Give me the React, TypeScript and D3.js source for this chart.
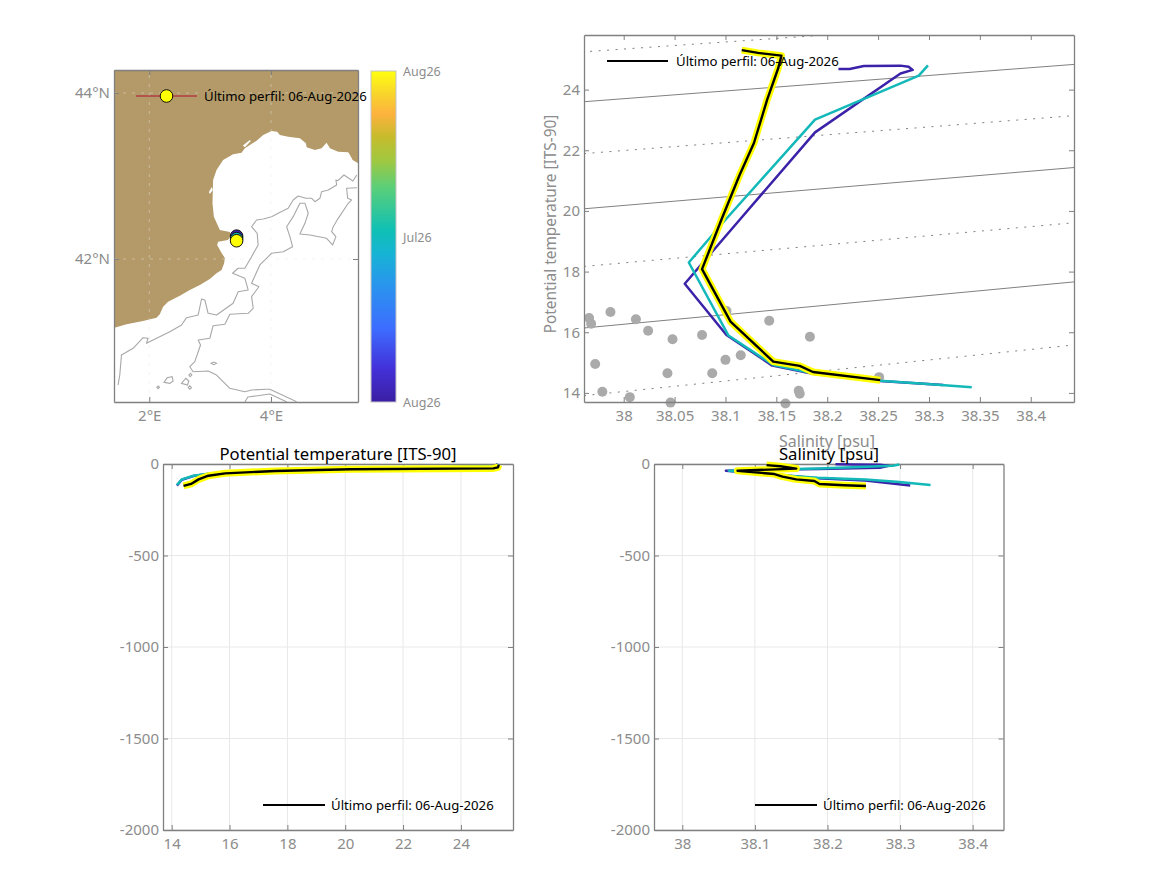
import React, { useEffect, useRef } from 'react';
import * as d3 from 'd3';

type Pt = [number, number];

const lastProfileLabel = 'Último perfil: 06-Aug-2026';

// map: lon / lat
const lonLimits: Pt = [1.42, 5.43];
const latLimits: Pt = [40.277, 44.277];
const lonTicks = [2, 4];
const latTicks = [42, 44];

const coastline: Pt[] = [
  [1.428, 41.172], [1.625, 41.213], [1.898, 41.253], [2.118, 41.293], [2.173, 41.334], [2.227, 41.425],
  [2.309, 41.486], [2.502, 41.558], [2.666, 41.627], [2.831, 41.687], [2.995, 41.759], [3.105, 41.828],
  [3.188, 41.867], [3.23, 41.948], [3.242, 42.012], [3.188, 42.072], [3.115, 42.169], [3.132, 42.208],
  [3.291, 42.229], [3.34, 42.277], [3.324, 42.325], [3.16, 42.349], [3.061, 42.51], [3.039, 42.671],
  [3.049, 42.952], [3.105, 43.072], [3.214, 43.193], [3.378, 43.261], [3.516, 43.281], [3.571, 43.334],
  [3.763, 43.425], [3.872, 43.494], [4.01, 43.542], [4.102, 43.534], [4.146, 43.494], [4.283, 43.473],
  [4.475, 43.454], [4.574, 43.394], [4.586, 43.346], [4.722, 43.313], [4.832, 43.334], [4.914, 43.401],
  [4.969, 43.334], [5.105, 43.293], [5.27, 43.286], [5.298, 43.253], [5.342, 43.193], [5.418, 43.16],
  [5.43, 43.157], [5.43, 44.277], [1.42, 44.277], [1.42, 41.172],
];
const lagoons: Pt[][] = [
  [[2.979, 42.807], [3.028, 42.867], [3.044, 42.831], [2.995, 42.783]],
  [[3.538, 43.367], [3.653, 43.434], [3.669, 43.422], [3.571, 43.346]],
];
const isobathA: Pt[] = [
  [5.408, 43.012], [5.347, 42.94], [5.199, 43.012], [5.1, 42.943], [5.067, 42.952], [5.079, 42.892],
  [4.941, 42.831], [4.832, 42.811], [4.804, 42.731], [4.722, 42.69], [4.668, 42.731], [4.574, 42.731],
  [4.447, 42.759], [4.365, 42.711], [4.283, 42.611], [4.118, 42.551], [4.01, 42.51], [3.872, 42.482],
  [3.763, 42.47], [3.681, 42.389], [3.773, 42.31], [3.789, 42.169], [3.681, 42.028], [3.571, 41.888],
  [3.461, 41.888], [3.368, 41.828], [3.571, 41.767], [3.625, 41.627], [3.461, 41.606], [3.378, 41.466],
  [3.105, 41.325], [2.967, 41.346], [2.913, 41.506], [2.859, 41.518], [2.803, 41.325], [2.612, 41.293],
  [2.53, 41.205], [2.337, 41.124], [1.954, 40.984], [1.98, 41.045], [1.898, 41.052], [1.734, 40.924],
  [1.543, 40.843], [1.515, 40.602], [1.487, 40.482],
];
const isobathB: Pt[] = [
  [5.413, 42.859], [5.243, 42.852], [5.26, 42.731], [5.326, 42.711], [5.27, 42.671], [5.105, 42.49],
  [5.023, 42.389], [4.997, 42.329], [5.067, 42.269], [5.013, 42.169], [4.914, 42.249], [4.64, 42.289],
  [4.475, 42.301], [4.558, 42.43], [4.612, 42.551], [4.558, 42.671], [4.475, 42.671], [4.365, 42.51],
  [4.257, 42.389], [4.311, 42.269], [4.355, 42.148], [4.201, 42.088], [4.01, 42.069], [3.817, 41.928],
  [3.681, 41.707], [3.801, 41.666], [3.681, 41.546], [3.707, 41.406], [3.625, 41.346], [3.324, 41.334],
  [3.242, 41.213], [3.049, 41.196], [2.995, 41.045], [2.803, 41.024], [2.842, 40.964], [2.748, 40.763],
  [2.666, 40.702], [2.72, 40.642], [2.967, 40.651], [3.105, 40.602], [3.324, 40.442], [3.571, 40.401],
  [3.681, 40.422], [3.928, 40.43], [3.982, 40.43], [4.421, 40.281],
];
const isobathC: Pt[] = [[3.571, 40.277], [3.62, 40.337], [3.982, 40.373], [4.261, 40.277]];
const islets: Pt[][] = [
  [[2.243, 40.514], [2.293, 40.57], [2.375, 40.582], [2.391, 40.53], [2.337, 40.502]],
  [[2.53, 40.502], [2.6, 40.563], [2.65, 40.53], [2.628, 40.482]],
  [[2.65, 40.602], [2.678, 40.623], [2.699, 40.602], [2.671, 40.582]],
  [[2.638, 40.454], [2.666, 40.473], [2.694, 40.449], [2.666, 40.43]],
  [[2.123, 40.454], [2.145, 40.47], [2.168, 40.454], [2.145, 40.437]],
  [[3.016, 40.743], [3.061, 40.759], [3.105, 40.743], [3.061, 40.727]],
];
const floatPositions: Pt[] = [[3.435, 42.275], [3.435, 42.245], [3.435, 42.22]];

// colorbar
const colorStops: [number, string][] = [
  [0, '#3a1fa3'], [0.1, '#4330d8'], [0.22, '#3d6cff'], [0.35, '#2a94ee'], [0.45, '#16b4d4'], [0.52, '#0fc0b4'],
  [0.65, '#5ccf78'], [0.73, '#a0c840'], [0.8, '#c6bc2c'], [0.87, '#fdb23e'], [0.93, '#f8d42c'], [1, '#ffff10'],
];
const colorbarTicks: [number, string][] = [[0, 'Aug26'], [0.5, 'Jul26'], [1, 'Aug26']];
const profileColors = ['#3b22a8', '#13b8b8', '#ffff00'];

// T-S diagram
const salLimits: Pt = [37.961, 38.4425];
const tempLimits: Pt = [13.7, 25.8];
const tsSalTicks = [38, 38.05, 38.1, 38.15, 38.2, 38.25, 38.3, 38.35, 38.4];
const tsTempTicks = [14, 16, 18, 20, 22, 24];

const tsPurple: Pt[] = [
  [38.211, 24.68], [38.222, 24.68], [38.236, 24.78], [38.272, 24.79], [38.28, 24.75], [38.284, 24.65],
  [38.272, 24.53], [38.188, 22.59], [38.114, 19.71], [38.06, 17.6], [38.101, 15.91], [38.146, 14.9],
  [38.186, 14.63], [38.252, 14.39], [38.314, 14.26],
];
const tsTeal: Pt[] = [
  [38.299, 24.8], [38.29, 24.46], [38.188, 23.01], [38.1, 19.71], [38.064, 18.3], [38.103, 15.89],
  [38.147, 14.92], [38.186, 14.65], [38.252, 14.4], [38.295, 14.3], [38.342, 14.19],
];
const tsLast: Pt[] = [
  [38.116, 25.3], [38.132, 25.21], [38.155, 25.12], [38.152, 24.72], [38.141, 23.67], [38.128, 22.24],
  [38.114, 21.19], [38.096, 19.71], [38.077, 18.08], [38.105, 16.35], [38.147, 15.03], [38.173, 14.89],
  [38.186, 14.69], [38.252, 14.42],
];
const climatology: Pt[] = [
  [37.966, 16.47], [37.968, 16.28], [37.987, 16.67], [38.012, 16.43], [38.024, 16.05], [38.048, 15.77],
  [38.077, 15.91], [37.972, 14.95], [38.043, 14.65], [38.087, 14.65], [38.1, 15.09], [38.115, 15.24],
  [38.143, 16.38], [38.183, 15.85], [38.101, 16.7], [37.979, 14.04], [38.006, 13.86], [38.046, 13.68],
  [38.159, 13.65], [38.172, 14.07], [38.173, 13.97], [38.251, 14.52],
];
const isopycnalsSolid: Pt[][] = [
  [[37.961, 23.6], [38.4425, 24.83]],
  [[37.961, 20.07], [38.4425, 21.43]],
  [[37.961, 16.14], [38.4425, 17.66]],
];
const isopycnalsDotted: Pt[][] = [
  [[37.967, 25.26], [38.19, 25.78]],
  [[37.961, 21.89], [38.4425, 23.14]],
  [[37.961, 18.17], [38.4425, 19.61]],
  [[37.961, 13.91], [38.4425, 15.58]],
];

// depth profiles
const depthLimits: Pt = [-2000, 0];
const depthTicks = [-2000, -1500, -1000, -500, 0];
const tempTicks = [14, 16, 18, 20, 22, 24];
const salTicks = [38, 38.1, 38.2, 38.3, 38.4];

const tempPurple: Pt[] = [
  [25.2, -3], [25.3, -8], [25.1, -12], [17.6, -39], [15.39, -52], [14.75, -66], [14.35, -86], [14.18, -118],
];
const tempTeal: Pt[] = [
  [25.3, -3], [25.2, -11], [20.17, -29], [17.6, -38], [15.39, -51], [14.75, -64], [14.35, -84], [14.18, -115],
];
const tempLast: Pt[] = [
  [25.31, -5], [25.28, -18], [25.12, -24], [20.17, -29], [17.58, -38], [15.85, -51], [15.27, -64],
  [14.93, -84], [14.67, -109], [14.41, -120],
];
const salPurple: Pt[] = [
  [38.211, -2], [38.236, -3], [38.272, -4], [38.284, -10], [38.272, -20], [38.188, -28], [38.114, -32],
  [38.06, -37], [38.101, -51], [38.146, -64], [38.186, -78], [38.252, -90], [38.314, -118],
];
const salTeal: Pt[] = [
  [38.299, -3], [38.29, -9], [38.188, -25], [38.1, -32], [38.064, -37], [38.103, -51], [38.147, -64],
  [38.186, -75], [38.252, -85], [38.295, -97], [38.342, -115],
];
const salLast: Pt[] = [
  [38.116, -6], [38.135, -12], [38.157, -25], [38.076, -37], [38.127, -55], [38.138, -69], [38.157, -84],
  [38.182, -93], [38.189, -109], [38.223, -116], [38.253, -120],
];

const GREY = '#808080';
const TEXT_GREY = '#8c8c8c';
const FONT = '"Noto Sans", sans-serif';

// box axes with inward ticks on the four sides, as the original plots have
function drawBox(
  svg: d3.Selection<SVGSVGElement, unknown, null, undefined>,
  x: d3.ScaleLinear<number, number>,
  y: d3.ScaleLinear<number, number>,
  xTicks: number[],
  yTicks: number[],
  xFmt: (d: number) => string,
  yFmt: (d: number) => string,
) {
  const [x0, x1] = x.range();
  const [y1, y0] = y.range();
  const style = (g: any) => {
    g.attr('color', GREY).attr('font-family', FONT).attr('font-size', 15);
    g.selectAll('text').attr('fill', TEXT_GREY);
    g.selectAll('.domain').attr('stroke-width', 1.3);
    g.selectAll('.tick line').attr('stroke-width', 1);
  };
  svg.append('g').attr('transform', `translate(0,${y1})`)
    .call(d3.axisBottom(x).tickValues(xTicks).tickSizeInner(-5).tickSizeOuter(0).tickPadding(8).tickFormat(d => xFmt(+d)))
    .call(style);
  svg.append('g').attr('transform', `translate(0,${y0})`)
    .call(d3.axisTop(x).tickValues(xTicks).tickSizeInner(-5).tickSizeOuter(0).tickFormat(() => ''))
    .call(style);
  svg.append('g').attr('transform', `translate(${x0},0)`)
    .call(d3.axisLeft(y).tickValues(yTicks).tickSizeInner(-5).tickSizeOuter(0).tickPadding(4).tickFormat(d => yFmt(+d)))
    .call(style);
  svg.append('g').attr('transform', `translate(${x1},0)`)
    .call(d3.axisRight(y).tickValues(yTicks).tickSizeInner(-5).tickSizeOuter(0).tickFormat(() => ''))
    .call(style);
}

function drawGrid(
  svg: d3.Selection<SVGSVGElement, unknown, null, undefined>,
  x: d3.ScaleLinear<number, number>,
  y: d3.ScaleLinear<number, number>,
  xTicks: number[],
  yTicks: number[],
  dash?: string,
  opacity = 1,
) {
  const g = svg.append('g').attr('stroke', '#e8e8e8').attr('stroke-width', 1)
    .attr('stroke-dasharray', dash ?? null).attr('opacity', opacity);
  g.selectAll('.gx').data(xTicks).enter().append('line')
    .attr('x1', d => x(d)).attr('x2', d => x(d)).attr('y1', y.range()[0]).attr('y2', y.range()[1]);
  g.selectAll('.gy').data(yTicks).enter().append('line')
    .attr('y1', d => y(d)).attr('y2', d => y(d)).attr('x1', x.range()[0]).attr('x2', x.range()[1]);
}

function drawLegend(
  svg: d3.Selection<SVGSVGElement, unknown, null, undefined>,
  x1: number, x2: number, yy: number, textX: number, color: string, width: number,
) {
  svg.append('line').attr('x1', x1).attr('x2', x2).attr('y1', yy).attr('y2', yy)
    .attr('stroke', color).attr('stroke-width', width);
  svg.append('text').attr('x', textX).attr('y', yy + 5).attr('font-family', FONT).attr('font-size', 13.2)
    .attr('fill', '#000').text(lastProfileLabel);
}

const App: React.FC = () => {
  const svgRef = useRef<SVGSVGElement>(null);

  useEffect(() => {
    if (!svgRef.current) return;
    const svg = d3.select(svgRef.current);
    svg.selectAll('*').remove();

    // 1. Map
    const lon = d3.scaleLinear().domain(lonLimits).range([114, 358]);
    const lat = d3.scaleLinear().domain(latLimits).range([402, 70]);
    const geoPoly = d3.line<Pt>().x(d => lon(d[0])).y(d => lat(d[1]));
    const defs = svg.append('defs');
    defs.append('clipPath').attr('id', 'map-clip').append('rect')
      .attr('x', 114).attr('y', 70).attr('width', 244).attr('height', 332);

    const map = svg.append('g').attr('clip-path', 'url(#map-clip)');
    map.append('path').attr('d', geoPoly(coastline) + 'Z').attr('fill', '#b39a68');
    lagoons.forEach(p => map.append('path').attr('d', geoPoly(p) + 'Z').attr('fill', '#fff'));
    drawGrid(map as any, lon, lat, lonTicks, latTicks, '3,6', 0.45);
    [isobathA, isobathB, isobathC].forEach(p => map.append('path').attr('d', geoPoly(p))
      .attr('fill', 'none').attr('stroke', '#a8a8a8').attr('stroke-width', 1.1).attr('stroke-linejoin', 'round'));
    islets.forEach(p => map.append('path').attr('d', geoPoly(p) + 'Z')
      .attr('fill', 'none').attr('stroke', '#a8a8a8').attr('stroke-width', 1.1));
    floatPositions.forEach((p, i) => map.append('circle')
      .attr('cx', lon(p[0])).attr('cy', lat(p[1])).attr('r', 6.3)
      .attr('fill', profileColors[i]).attr('stroke', '#111').attr('stroke-width', 1));

    drawBox(svg, lon, lat, lonTicks, latTicks, d => `${d}°E`, d => `${d}°N`);

    svg.append('line').attr('x1', 136).attr('x2', 197).attr('y1', 96).attr('y2', 96)
      .attr('stroke', '#b01030').attr('stroke-width', 1);
    svg.append('circle').attr('cx', 166.5).attr('cy', 96).attr('r', 6.3)
      .attr('fill', '#ffff00').attr('stroke', '#111').attr('stroke-width', 1);
    svg.append('text').attr('x', 204).attr('y', 101).attr('font-family', FONT).attr('font-size', 13.2)
      .attr('fill', '#000').text(lastProfileLabel);

    // 2. Colorbar
    const grad = defs.append('linearGradient').attr('id', 'cbar').attr('x1', '0%').attr('x2', '0%').attr('y1', '100%').attr('y2', '0%');
    colorStops.forEach(s => grad.append('stop').attr('offset', s[0]).attr('stop-color', s[1]));
    const cb = d3.scaleLinear().domain([0, 1]).range([402, 71]);
    svg.append('rect').attr('x', 371).attr('y', cb(1)).attr('width', 25).attr('height', cb(0) - cb(1))
      .attr('fill', 'url(#cbar)').attr('stroke', '#c4c4c4').attr('stroke-width', 1);
    svg.selectAll('.cbt').data(colorbarTicks).enter().append('text')
      .attr('x', 403).attr('y', d => cb(d[0]) + 5).attr('font-family', FONT).attr('font-size', 12.5)
      .attr('fill', TEXT_GREY).text(d => d[1]);

    // 3. T-S diagram
    const sx = d3.scaleLinear().domain(salLimits).range([584, 1074]);
    const ty = d3.scaleLinear().domain(tempLimits).range([402, 35]);
    const tsLine = d3.line<Pt>().x(d => sx(d[0])).y(d => ty(d[1]));

    isopycnalsSolid.forEach(p => svg.append('path').attr('d', tsLine(p))
      .attr('stroke', '#808080').attr('stroke-width', 1).attr('fill', 'none'));
    isopycnalsDotted.forEach(p => svg.append('path').attr('d', tsLine(p))
      .attr('stroke', '#808080').attr('stroke-width', 1).attr('stroke-dasharray', '2,6.5').attr('fill', 'none'));
    svg.selectAll('.clim').data(climatology).enter().append('circle')
      .attr('cx', d => sx(d[0])).attr('cy', d => ty(d[1])).attr('r', 5).attr('fill', '#aaaaaa');
    drawBox(svg, sx, ty, tsSalTicks, tsTempTicks, d => d3.format('.10~f')(d), d => `${d}`);

    const drawProfiles = (line: d3.Line<Pt>, purple: Pt[], teal: Pt[], last: Pt[]) => {
      const add = (p: Pt[], c: string, w: number) => svg.append('path').attr('d', line(p)).attr('fill', 'none')
        .attr('stroke', c).attr('stroke-width', w).attr('stroke-linejoin', 'round');
      add(purple, profileColors[0], 2.5);
      add(teal, profileColors[1], 2.5);
      add(last, profileColors[2], 7);
      add(last, '#000', 2.4);
    };
    drawProfiles(tsLine, tsPurple, tsTeal, tsLast);
    drawLegend(svg, 607, 668, 61, 676, '#000', 2.2);

    svg.append('text').attr('x', 827).attr('y', 447).attr('text-anchor', 'middle').attr('font-family', FONT)
      .attr('font-size', 16).attr('fill', TEXT_GREY).text('Salinity [psu]');
    svg.append('text').attr('transform', 'translate(556,224) rotate(-90)').attr('text-anchor', 'middle')
      .attr('font-family', FONT).attr('font-size', 15.4).attr('fill', TEXT_GREY).text('Potential temperature [ITS-90]');

    // 4. Depth profiles
    const depth = d3.scaleLinear().domain(depthLimits).range([830, 464]);

    const tx = d3.scaleLinear().domain(tempLimits).range([163, 513]);
    drawGrid(svg, tx, depth, tempTicks, depthTicks);
    drawBox(svg, tx, depth, tempTicks, depthTicks, d => `${d}`, d => `${d}`);
    drawProfiles(d3.line<Pt>().x(d => tx(d[0])).y(d => depth(d[1])), tempPurple, tempTeal, tempLast);
    drawLegend(svg, 263, 325, 805, 331, '#000', 2.2);
    svg.append('text').attr('x', 338).attr('y', 460).attr('text-anchor', 'middle').attr('font-family', FONT)
      .attr('font-size', 16.7).attr('fill', '#000').text('Potential temperature [ITS-90]');

    const px = d3.scaleLinear().domain(salLimits).range([654, 1003.5]);
    drawGrid(svg, px, depth, salTicks, depthTicks);
    drawBox(svg, px, depth, salTicks, depthTicks, d => d3.format('.10~f')(d), d => `${d}`);
    drawProfiles(d3.line<Pt>().x(d => px(d[0])).y(d => depth(d[1])), salPurple, salTeal, salLast);
    drawLegend(svg, 755, 817, 805, 823, '#000', 2.2);
    svg.append('text').attr('x', 829).attr('y', 460).attr('text-anchor', 'middle').attr('font-family', FONT)
      .attr('font-size', 16.7).attr('fill', '#000').text('Salinity [psu]');
  }, []);

  return (
    <svg ref={svgRef} width={1167} height={875} style={{ position: 'absolute', left: 0, top: 0, background: '#fff' }} />
  );
};

export default App;
